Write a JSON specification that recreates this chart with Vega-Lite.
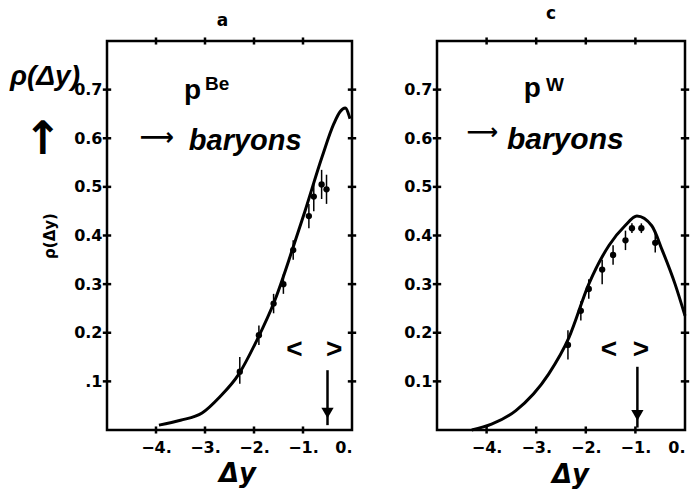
{
  "$schema": "https://vega.github.io/schema/vega-lite/v6.json",
  "padding": {"left": 8, "top": 4, "right": 0, "bottom": 0},
  "background": "white",
  "bounds": "flush",
  "spacing": 85,
  "config": {
    "view": {"stroke": "black", "strokeWidth": 2.5},
    "axis": {"domain": false, "ticks": false, "labelFont": "DejaVu Sans", "labelFontWeight": "bold", "labelFontSize": 16, "labelColor": "black", "grid": false, "titleColor": "black", "titleFont": "DejaVu Sans", "titleFontWeight": "bold"},
    "title": {"font": "DejaVu Sans", "fontWeight": "bold", "fontSize": 17, "color": "black", "baseline": "alphabetic"},
    "text": {"font": "Liberation Sans", "fontWeight": "bold", "color": "black"}
  },
  "datasets": {
    "curveA": [
      {"x": -3.94, "y": 0.01}, {"x": -3.5, "y": 0.02}, {"x": -3.06, "y": 0.035}, {"x": -2.7, "y": 0.068},
      {"x": -2.31, "y": 0.115}, {"x": -1.94, "y": 0.185}, {"x": -1.57, "y": 0.268}, {"x": -1.22, "y": 0.37},
      {"x": -0.96, "y": 0.45}, {"x": -0.61, "y": 0.562}, {"x": -0.37, "y": 0.63}, {"x": -0.24, "y": 0.655},
      {"x": -0.14, "y": 0.662}, {"x": -0.04, "y": 0.64}
    ],
    "ptsA": [
      {"x": -2.29, "y": 0.12, "lo": 0.095, "hi": 0.15},
      {"x": -1.9, "y": 0.195, "lo": 0.175, "hi": 0.215},
      {"x": -1.6, "y": 0.26, "lo": 0.24, "hi": 0.28},
      {"x": -1.4, "y": 0.3, "lo": 0.28, "hi": 0.32},
      {"x": -1.2, "y": 0.37, "lo": 0.35, "hi": 0.39},
      {"x": -0.88, "y": 0.44, "lo": 0.415, "hi": 0.465},
      {"x": -0.78, "y": 0.48, "lo": 0.45, "hi": 0.51},
      {"x": -0.62, "y": 0.505, "lo": 0.475, "hi": 0.535},
      {"x": -0.52, "y": 0.495, "lo": 0.465, "hi": 0.525}
    ],
    "arrowA": [{"x": -0.5, "top": 0.123, "bot": 0.01, "head": 0.035}],
    "curveC": [
      {"x": -4.3, "y": 0.0}, {"x": -3.9, "y": 0.012}, {"x": -3.41, "y": 0.04}, {"x": -2.75, "y": 0.115},
      {"x": -2.34, "y": 0.19}, {"x": -1.94, "y": 0.3}, {"x": -1.53, "y": 0.38}, {"x": -1.21, "y": 0.42},
      {"x": -0.97, "y": 0.44}, {"x": -0.67, "y": 0.42}, {"x": -0.46, "y": 0.37}, {"x": -0.2, "y": 0.3},
      {"x": 0.0, "y": 0.235}
    ],
    "ptsC": [
      {"x": -2.36, "y": 0.175, "lo": 0.145, "hi": 0.205},
      {"x": -2.1, "y": 0.245, "lo": 0.225, "hi": 0.265},
      {"x": -1.94, "y": 0.29, "lo": 0.27, "hi": 0.31},
      {"x": -1.67, "y": 0.33, "lo": 0.3, "hi": 0.35},
      {"x": -1.45, "y": 0.36, "lo": 0.34, "hi": 0.38},
      {"x": -1.2, "y": 0.39, "lo": 0.37, "hi": 0.41},
      {"x": -1.07, "y": 0.415, "lo": 0.405, "hi": 0.425},
      {"x": -0.88, "y": 0.415, "lo": 0.405, "hi": 0.425},
      {"x": -0.6, "y": 0.385, "lo": 0.365, "hi": 0.405}
    ],
    "arrowC": [{"x": -0.96, "top": 0.13, "bot": 0.005, "head": 0.03}],
    "yT": [
      {"x": -5, "y": 0.1}, {"x": -5, "y": 0.2}, {"x": -5, "y": 0.3}, {"x": -5, "y": 0.4}, {"x": -5, "y": 0.5}, {"x": -5, "y": 0.6}, {"x": -5, "y": 0.7},
      {"x": 0, "y": 0.1}, {"x": 0, "y": 0.2}, {"x": 0, "y": 0.3}, {"x": 0, "y": 0.4}, {"x": 0, "y": 0.5}, {"x": 0, "y": 0.6}, {"x": 0, "y": 0.7}
    ],
    "xT": [
      {"x": -4, "y": 0}, {"x": -3, "y": 0}, {"x": -2, "y": 0}, {"x": -1, "y": 0},
      {"x": -4, "y": 0.8}, {"x": -3, "y": 0.8}, {"x": -2, "y": 0.8}, {"x": -1, "y": 0.8}
    ],
    "pA": [{"x": -3.43, "y": 0.68, "t": "p"}],
    "supA": [{"x": -3.0, "y": 0.7, "t": "Be"}],
    "arrA": [{"x": -4.33, "y": 0.6, "t": "⟶"}],
    "barA": [{"x": -3.33, "y": 0.576, "t": "baryons"}],
    "pC": [{"x": -3.25, "y": 0.685, "t": "p"}],
    "supC": [{"x": -2.8, "y": 0.697, "t": "W"}],
    "arrC": [{"x": -4.4, "y": 0.612, "t": "⟶"}],
    "barC": [{"x": -3.59, "y": 0.577, "t": "baryons"}],
    "meanA": [{"x": -0.77, "y": 0.165, "t": "<\u00a0\u00a0\u00a0>"}],
    "meanC": [{"x": -1.21, "y": 0.165, "t": "<\u00a0\u00a0>"}],
    "handA": [{"x": -6.98, "y": 0.71, "t": "ρ(Δy)"}],
    "upA": [{"x": -6.31, "y": 0.597, "t": "↑"}]
  },
  "hconcat": [
    {
      "width": 245,
      "height": 389,
      "view": {"stroke": "black", "strokeWidth": 2.5},
      "title": {"text": "a", "dx": -7, "offset": 2},
      "layer": [
        {
          "data": {"name": "curveA"},
          "mark": {"type": "line", "color": "black", "strokeWidth": 3, "interpolate": "monotone"},
          "encoding": {
            "x": {"field": "x", "type": "quantitative", "scale": {"domain": [-5, 0]},
              "axis": {"values": [-4, -3, -2, -1, 0], "labelExpr": "format(datum.value, 'd') + '.'", "labelPadding": 9, "title": "Δy", "titleFontSize": 26, "titleFontStyle": "italic", "titleX": 130, "titleY": 43, "titleBaseline": "middle", "titleAlign": "center"}},
            "y": {"field": "y", "type": "quantitative", "scale": {"domain": [0, 0.8]},
              "axis": {"values": [0.1, 0.2, 0.3, 0.4, 0.5, 0.6, 0.7], "labelExpr": "datum.value < 0.15 ? '.1' : format(datum.value, '.1f')", "labelPadding": 5, "title": "ρ(Δy)", "titleFontSize": 15, "titlePadding": 16}}
          }
        },
        {
          "data": {"name": "yT"},
          "mark": {"type": "point", "shape": "M-1,0L1,0", "filled": false, "color": "black", "strokeWidth": 2.5, "size": 70, "opacity": 1},
          "encoding": {
            "x": {"field": "x", "type": "quantitative"},
            "y": {"field": "y", "type": "quantitative"}
          }
        },
        {
          "data": {"name": "xT"},
          "mark": {"type": "point", "shape": "M0,-1L0,1", "filled": false, "color": "black", "strokeWidth": 2.5, "size": 50, "opacity": 1},
          "encoding": {
            "x": {"field": "x", "type": "quantitative"},
            "y": {"field": "y", "type": "quantitative"}
          }
        },
        {
          "data": {"name": "ptsA"},
          "mark": {"type": "rule", "color": "black", "strokeWidth": 1.5},
          "encoding": {
            "x": {"field": "x", "type": "quantitative"},
            "y": {"field": "lo", "type": "quantitative"},
            "y2": {"field": "hi"}
          }
        },
        {
          "data": {"name": "ptsA"},
          "mark": {"type": "point", "filled": true, "color": "black", "size": 40, "opacity": 1},
          "encoding": {
            "x": {"field": "x", "type": "quantitative"},
            "y": {"field": "y", "type": "quantitative"}
          }
        },
        {
          "data": {"name": "arrowA"},
          "mark": {"type": "rule", "color": "black", "strokeWidth": 2.5},
          "encoding": {
            "x": {"field": "x", "type": "quantitative"},
            "y": {"field": "top", "type": "quantitative"},
            "y2": {"field": "bot"}
          }
        },
        {
          "data": {"name": "arrowA"},
          "mark": {"type": "point", "shape": "triangle-down", "filled": true, "color": "black", "size": 150, "opacity": 1},
          "encoding": {
            "x": {"field": "x", "type": "quantitative"},
            "y": {"field": "head", "type": "quantitative"}
          }
        },
        {
          "data": {"name": "pA"},
          "mark": {"type": "text", "fontSize": 28, "align": "left", "baseline": "alphabetic"},
          "encoding": {
            "x": {"field": "x", "type": "quantitative"},
            "y": {"field": "y", "type": "quantitative"},
            "text": {"field": "t"}
          }
        },
        {
          "data": {"name": "supA"},
          "mark": {"type": "text", "fontSize": 19, "align": "left", "baseline": "alphabetic"},
          "encoding": {
            "x": {"field": "x", "type": "quantitative"},
            "y": {"field": "y", "type": "quantitative"},
            "text": {"field": "t"}
          }
        },
        {
          "data": {"name": "arrA"},
          "mark": {"type": "text", "fontSize": 24, "font": "DejaVu Sans", "align": "left", "baseline": "middle"},
          "encoding": {
            "x": {"field": "x", "type": "quantitative"},
            "y": {"field": "y", "type": "quantitative"},
            "text": {"field": "t"}
          }
        },
        {
          "data": {"name": "barA"},
          "mark": {"type": "text", "fontSize": 29, "fontStyle": "italic", "align": "left", "baseline": "alphabetic"},
          "encoding": {
            "x": {"field": "x", "type": "quantitative"},
            "y": {"field": "y", "type": "quantitative"},
            "text": {"field": "t"}
          }
        },
        {
          "data": {"name": "meanA"},
          "mark": {"type": "text", "fontSize": 28, "align": "center", "baseline": "middle"},
          "encoding": {
            "x": {"field": "x", "type": "quantitative"},
            "y": {"field": "y", "type": "quantitative"},
            "text": {"field": "t"}
          }
        },
        {
          "data": {"name": "handA"},
          "mark": {"type": "text", "fontSize": 28, "fontStyle": "italic", "align": "left", "baseline": "alphabetic"},
          "encoding": {
            "x": {"field": "x", "type": "quantitative"},
            "y": {"field": "y", "type": "quantitative"},
            "text": {"field": "t"}
          }
        },
        {
          "data": {"name": "upA"},
          "mark": {"type": "text", "fontSize": 46, "font": "DejaVu Sans", "align": "center", "baseline": "middle"},
          "encoding": {
            "x": {"field": "x", "type": "quantitative"},
            "y": {"field": "y", "type": "quantitative"},
            "text": {"field": "t"}
          }
        }
      ]
    },
    {
      "width": 248,
      "height": 389,
      "view": {"stroke": "black", "strokeWidth": 2.5},
      "title": {"text": "c", "dx": -10, "offset": 9},
      "layer": [
        {
          "data": {"name": "curveC"},
          "mark": {"type": "line", "color": "black", "strokeWidth": 3, "interpolate": "monotone"},
          "encoding": {
            "x": {"field": "x", "type": "quantitative", "scale": {"domain": [-5, 0]},
              "axis": {"values": [-4, -3, -2, -1, 0], "labelExpr": "format(datum.value, 'd') + '.'", "labelPadding": 9, "title": "Δy", "titleFontSize": 26, "titleFontStyle": "italic", "titleX": 133, "titleY": 44, "titleBaseline": "middle", "titleAlign": "center"}},
            "y": {"field": "y", "type": "quantitative", "scale": {"domain": [0, 0.8]},
              "axis": {"values": [0.1, 0.2, 0.3, 0.4, 0.5, 0.6, 0.7], "format": ".1f", "labelPadding": 5, "title": null}}
          }
        },
        {
          "data": {"name": "yT"},
          "mark": {"type": "point", "shape": "M-1,0L1,0", "filled": false, "color": "black", "strokeWidth": 2.5, "size": 70, "opacity": 1},
          "encoding": {
            "x": {"field": "x", "type": "quantitative"},
            "y": {"field": "y", "type": "quantitative"}
          }
        },
        {
          "data": {"name": "xT"},
          "mark": {"type": "point", "shape": "M0,-1L0,1", "filled": false, "color": "black", "strokeWidth": 2.5, "size": 50, "opacity": 1},
          "encoding": {
            "x": {"field": "x", "type": "quantitative"},
            "y": {"field": "y", "type": "quantitative"}
          }
        },
        {
          "data": {"name": "ptsC"},
          "mark": {"type": "rule", "color": "black", "strokeWidth": 1.5},
          "encoding": {
            "x": {"field": "x", "type": "quantitative"},
            "y": {"field": "lo", "type": "quantitative"},
            "y2": {"field": "hi"}
          }
        },
        {
          "data": {"name": "ptsC"},
          "mark": {"type": "point", "filled": true, "color": "black", "size": 40, "opacity": 1},
          "encoding": {
            "x": {"field": "x", "type": "quantitative"},
            "y": {"field": "y", "type": "quantitative"}
          }
        },
        {
          "data": {"name": "arrowC"},
          "mark": {"type": "rule", "color": "black", "strokeWidth": 2.5},
          "encoding": {
            "x": {"field": "x", "type": "quantitative"},
            "y": {"field": "top", "type": "quantitative"},
            "y2": {"field": "bot"}
          }
        },
        {
          "data": {"name": "arrowC"},
          "mark": {"type": "point", "shape": "triangle-down", "filled": true, "color": "black", "size": 150, "opacity": 1},
          "encoding": {
            "x": {"field": "x", "type": "quantitative"},
            "y": {"field": "head", "type": "quantitative"}
          }
        },
        {
          "data": {"name": "pC"},
          "mark": {"type": "text", "fontSize": 28, "align": "left", "baseline": "alphabetic"},
          "encoding": {
            "x": {"field": "x", "type": "quantitative"},
            "y": {"field": "y", "type": "quantitative"},
            "text": {"field": "t"}
          }
        },
        {
          "data": {"name": "supC"},
          "mark": {"type": "text", "fontSize": 19, "align": "left", "baseline": "alphabetic"},
          "encoding": {
            "x": {"field": "x", "type": "quantitative"},
            "y": {"field": "y", "type": "quantitative"},
            "text": {"field": "t"}
          }
        },
        {
          "data": {"name": "arrC"},
          "mark": {"type": "text", "fontSize": 22, "font": "DejaVu Sans", "align": "left", "baseline": "middle"},
          "encoding": {
            "x": {"field": "x", "type": "quantitative"},
            "y": {"field": "y", "type": "quantitative"},
            "text": {"field": "t"}
          }
        },
        {
          "data": {"name": "barC"},
          "mark": {"type": "text", "fontSize": 30, "fontStyle": "italic", "align": "left", "baseline": "alphabetic"},
          "encoding": {
            "x": {"field": "x", "type": "quantitative"},
            "y": {"field": "y", "type": "quantitative"},
            "text": {"field": "t"}
          }
        },
        {
          "data": {"name": "meanC"},
          "mark": {"type": "text", "fontSize": 28, "align": "center", "baseline": "middle"},
          "encoding": {
            "x": {"field": "x", "type": "quantitative"},
            "y": {"field": "y", "type": "quantitative"},
            "text": {"field": "t"}
          }
        }
      ]
    }
  ]
}
